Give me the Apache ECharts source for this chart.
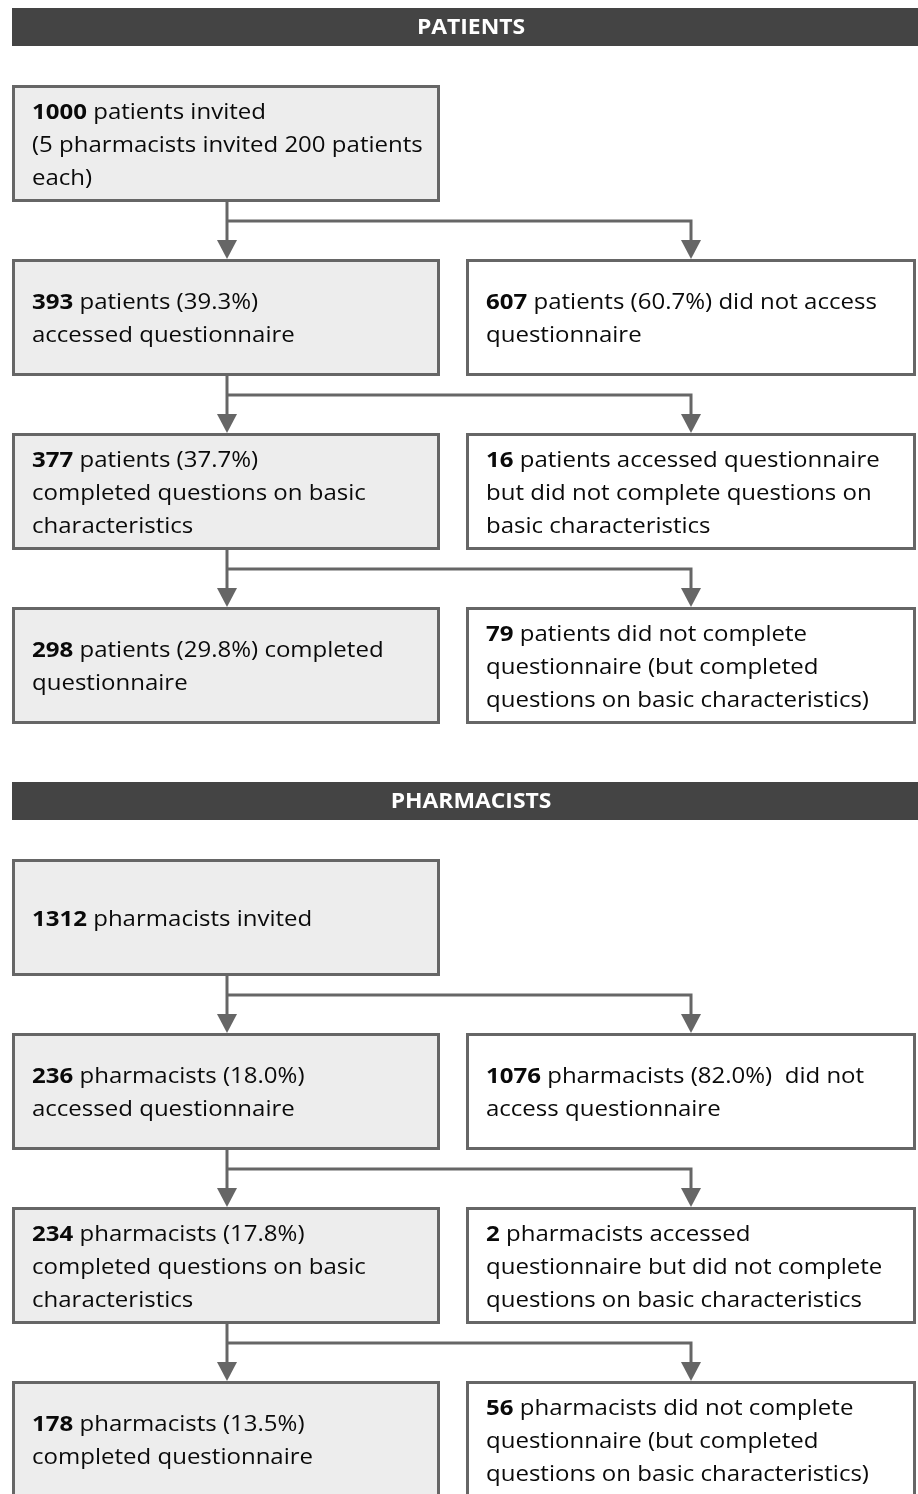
<!DOCTYPE html>
<html>
<head>
<meta charset="utf-8">
<script src="https://cdn.jsdelivr.net/npm/echarts@6/dist/echarts.min.js"></script>
<style>html,body{margin:0;padding:0;background:#fff}#c{width:918px;height:1494px}</style>
</head>
<body>
<div id="c"></div>
<script>
// ---- data ----
const sections = ['PATIENTS', 'PHARMACISTS'];
const patientNumbers = ['1000', '393', '607', '377', '16', '298', '79'];
const patientLabels = [
  ' patients invited\n(5 pharmacists invited 200 patients\neach)',
  ' patients (39.3%)\naccessed questionnaire',
  ' patients (60.7%) did not access\nquestionnaire',
  ' patients (37.7%)\ncompleted questions on basic\ncharacteristics',
  ' patients accessed questionnaire\nbut did not complete questions on\nbasic characteristics',
  ' patients (29.8%) completed\nquestionnaire',
  ' patients did not complete\nquestionnaire (but completed\nquestions on basic characteristics)'
];
const pharmacistNumbers = ['1312', '236', '1076', '234', '2', '178', '56'];
const pharmacistLabels = [
  ' pharmacists invited',
  ' pharmacists (18.0%)\naccessed questionnaire',
  ' pharmacists (82.0%)  did not\naccess questionnaire',
  ' pharmacists (17.8%)\ncompleted questions on basic\ncharacteristics',
  ' pharmacists accessed\nquestionnaire but did not complete\nquestions on basic characteristics',
  ' pharmacists (13.5%)\ncompleted questionnaire',
  ' pharmacists did not complete\nquestionnaire (but completed\nquestions on basic characteristics)'
];
// box placement: [row, column] for each of the 7 boxes in a section
const boxRows = [0, 1, 1, 2, 2, 3, 3];
const boxCols = [0, 0, 1, 0, 1, 0, 1];

// ---- layout (styles) ----
const SECTION_TOP = [8, 782];
const HEADER_H = 38;
const ROW_OFFSET = 77;
const ROW_STEP = 174;
const BOX_H = 117;
const COLS = [[12, 440], [466, 916]];
const BRANCH_GAP = 19;
const LINE_COLOR = '#666666';
const FONT = 'Open Sans';
const TEXT_SCALE_X = 1.144;

const numbersBySection = [patientNumbers, pharmacistNumbers];
const labelsBySection = [patientLabels, pharmacistLabels];

const boxData = [];
sections.forEach((s, si) => {
  boxRows.forEach((r, i) => boxData.push([si, r, boxCols[i], i]));
});
const connData = [];
sections.forEach((s, si) => { for (let r = 0; r < 3; r++) connData.push([si, r]); });
const headerData = sections.map((s, si) => [si]);

function rowTop(si, r) { return SECTION_TOP[si] + ROW_OFFSET + r * ROW_STEP; }

const chart = echarts.init(document.getElementById('c'), null, {renderer: 'canvas'});
chart.setOption({
  animation: false,
  grid: {left: 0, top: 0, width: 918, height: 1494},
  xAxis: {type: 'value', min: 0, max: 918, show: false},
  yAxis: {type: 'value', min: 0, max: 1494, inverse: true, show: false},
  series: [
    {
      type: 'custom', coordinateSystem: 'cartesian2d', data: headerData, clip: false,
      renderItem: function (params, api) {
        const si = api.value(0);
        const a = api.coord([12, SECTION_TOP[si]]);
        const b = api.coord([940, SECTION_TOP[si] + HEADER_H]);
        const mid = api.coord([471, SECTION_TOP[si] + HEADER_H / 2]);
        return {
          type: 'group', children: [
            {type: 'rect', shape: {x: a[0], y: a[1], width: b[0] - a[0], height: b[1] - a[1]}, style: {fill: '#444444'}},
            {type: 'text', x: mid[0], y: mid[1] + 1, scaleX: 1.04, style: {text: sections[si], fill: '#ffffff', font: 'bold 22px "' + FONT + '"', align: 'center', verticalAlign: 'middle'}}
          ]
        };
      }
    },
    {
      type: 'custom', coordinateSystem: 'cartesian2d', data: boxData, clip: false,
      renderItem: function (params, api) {
        const si = api.value(0), r = api.value(1), c = api.value(2), i = api.value(3);
        const top = rowTop(si, r);
        const a = api.coord([COLS[c][0], top]);
        const b = api.coord([COLS[c][1], top + BOX_H]);
        const txt = '{b|' + numbersBySection[si][i] + '}' + labelsBySection[si][i].split('\n').map((l, k) => '{n|' + l + '}').join('\n');
        return {
          type: 'group', children: [
            {type: 'rect', shape: {x: a[0] + 1.5, y: a[1] + 1.5, width: b[0] - a[0] - 3, height: b[1] - a[1] - 3},
              style: {fill: c === 0 ? '#ededed' : '#ffffff', stroke: LINE_COLOR, lineWidth: 3}},
            {type: 'text', x: a[0] + 20, y: (a[1] + b[1]) / 2 + 2.5, scaleX: TEXT_SCALE_X,
              style: {text: txt, align: 'left', verticalAlign: 'middle', fill: '#0a0a0a',
                rich: {
                  b: {fontFamily: FONT, fontWeight: 'bold', fontSize: 21, lineHeight: 33, fill: '#0a0a0a'},
                  n: {fontFamily: FONT, fontSize: 21, lineHeight: 33, fill: '#0a0a0a'}
                }}}
          ]
        };
      }
    },
    {
      type: 'custom', coordinateSystem: 'cartesian2d', data: connData, clip: false,
      renderItem: function (params, api) {
        const si = api.value(0), r = api.value(1);
        const bottom = rowTop(si, r) + BOX_H;
        const next = rowTop(si, r + 1);
        const xl = (COLS[0][0] + COLS[0][1]) / 2 + 1;
        const xr = 691;
        const yb = bottom + BRANCH_GAP;
        const P = (x, y) => api.coord([x, y]);
        const ah = 19, aw = 10;
        const tipL = P(xl, next), tipR = P(xr, next);
        const ls = {stroke: LINE_COLOR, lineWidth: 3, fill: null};
        return {
          type: 'group', children: [
            {type: 'polyline', shape: {points: [P(xl, bottom), [tipL[0], tipL[1] - ah + 2]]}, style: ls},
            {type: 'polyline', shape: {points: [P(xl, yb), P(xr, yb), [tipR[0], tipR[1] - ah + 2]]}, style: Object.assign({lineJoin: 'miter'}, ls)},
            {type: 'polygon', shape: {points: [[tipL[0] - aw, tipL[1] - ah], [tipL[0] + aw, tipL[1] - ah], tipL]}, style: {fill: LINE_COLOR}},
            {type: 'polygon', shape: {points: [[tipR[0] - aw, tipR[1] - ah], [tipR[0] + aw, tipR[1] - ah], tipR]}, style: {fill: LINE_COLOR}}
          ]
        };
      }
    }
  ]
});
</script>
</body>
</html>
